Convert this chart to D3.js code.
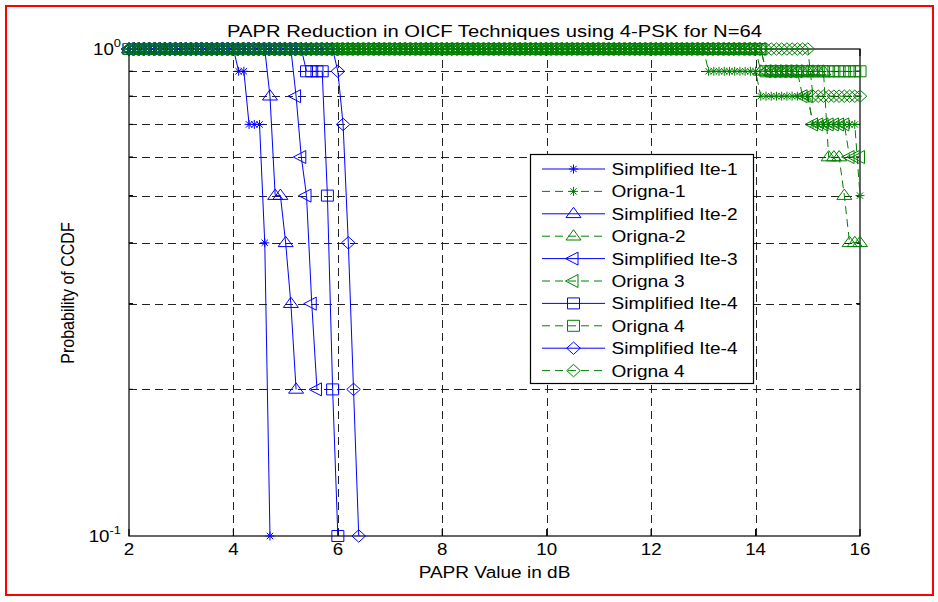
<!DOCTYPE html>
<html><head><meta charset="utf-8">
<script src="https://cdn.jsdelivr.net/npm/d3@7"></script>
<style>body{margin:0;background:#fff}text{font-family:"Liberation Sans",Arial,sans-serif;fill:#000}</style>
</head><body>
<svg id="chart" width="938" height="602"></svg>
<script>
// PAPR thresholds (dB) at which every CCDF was evaluated
const paprThresholds = d3.range(20, 161).map(d => d / 10);
const xTicks = [2, 4, 6, 8, 10, 12, 14, 16];
const yGridValues = [0.2, 0.3, 0.4, 0.5, 0.6, 0.7, 0.8, 0.9];
const yMajorTicks = [1, 0.1];
const yMajorLabels = ["0", "-1"];

const seriesNames = ["Simplified Ite-1", "Origna-1", "Simplified Ite-2", "Origna-2", "Simplified Ite-3",
  "Origna 3", "Simplified Ite-4", "Origna 4", "Simplified Ite-4", "Origna 4"];
const seriesMarkers = ["star", "star", "triUp", "triUp", "triLeft", "triLeft", "square", "square", "diamond", "diamond"];
const seriesKinds = ["simp", "orig", "simp", "orig", "simp", "orig", "simp", "orig", "simp", "orig"];

// CCDF levels of each curve, and the last threshold (dB) at which each level holds
const s1Levels = [1, 0.9, 0.7, 0.4, 0.1];          const s1Ends = [4.0, 4.2, 4.5, 4.6, 4.7];
const o1Levels = [1, 0.9, 0.8, 0.7, 0.5];          const o1Ends = [13.0, 14.0, 15.0, 15.9, 16.0];
const s2Levels = [1, 0.8, 0.5, 0.4, 0.3, 0.2];     const s2Ends = [4.6, 4.7, 4.9, 5.0, 5.1, 5.2];
const o2Levels = [1, 0.9, 0.6, 0.5, 0.4];          const o2Ends = [14.0, 15.3, 15.6, 15.7, 16.0];
const s3Levels = [1, 0.8, 0.6, 0.5, 0.3, 0.2];     const s3Ends = [5.1, 5.2, 5.3, 5.4, 5.5, 5.6];
const o3Levels = [1, 0.9, 0.8, 0.7, 0.6];          const o3Ends = [14.1, 14.8, 15.0, 15.7, 16.0];
const s4Levels = [1, 0.9, 0.5, 0.2, 0.1];          const s4Ends = [5.3, 5.7, 5.8, 5.9, 6.0];
const o4Levels = [1, 0.9];                         const o4Ends = [14.1, 16.0];
const s5Levels = [1, 0.9, 0.7, 0.4, 0.2, 0.1];     const s5Ends = [5.9, 6.0, 6.1, 6.2, 6.3, 6.4];
const o5Levels = [1, 0.8];                         const o5Ends = [15.0, 16.0];

const allLevels = [s1Levels, o1Levels, s2Levels, o2Levels, s3Levels, o3Levels, s4Levels, o4Levels, s5Levels, o5Levels];
const allEnds = [s1Ends, o1Ends, s2Ends, o2Ends, s3Ends, o3Ends, s4Ends, o4Ends, s5Ends, o5Ends];

const colors = { simp: "#0000ff", orig: "#008000" };
const dashes = { simp: null, orig: "8,5" };

const svg = d3.select("#chart");
const L = 129, R = 860, T = 49, B = 536;
const x = d3.scaleLinear().domain([2, 16]).range([L, R]);
const y = d3.scaleLog().domain([0.1, 1]).range([B, T]);
const SX = 1.17; // horizontal glyph stretch of the original figure

// red frame
svg.append("rect").attr("x", 6).attr("y", 6).attr("width", 927).attr("height", 589)
  .attr("fill", "#fff").attr("stroke", "#ff0000").attr("stroke-width", 2);

// grid
const grid = svg.append("g").attr("stroke", "#222").attr("stroke-width", 1).attr("stroke-dasharray", "8,5");
grid.selectAll("line.v").data(xTicks.slice(1, -1)).join("line")
  .attr("x1", d => Math.round(x(d)) + 0.5).attr("x2", d => Math.round(x(d)) + 0.5).attr("y1", B).attr("y2", T);
grid.selectAll("line.h").data(yGridValues).join("line")
  .attr("y1", d => Math.round(y(d)) + 0.5).attr("y2", d => Math.round(y(d)) + 0.5).attr("x1", L).attr("x2", R);

// axes box + ticks
const ax = svg.append("g").attr("stroke", "#000").attr("stroke-width", 1.2).attr("fill", "none");
ax.append("rect").attr("x", L).attr("y", T).attr("width", R - L).attr("height", B - T);
xTicks.forEach(t => {
  ax.append("line").attr("x1", x(t)).attr("x2", x(t)).attr("y1", B).attr("y2", B - 7);
  ax.append("line").attr("x1", x(t)).attr("x2", x(t)).attr("y1", T).attr("y2", T + 7);
});
yGridValues.forEach(v => {
  ax.append("line").attr("x1", L).attr("x2", L + 4).attr("y1", y(v)).attr("y2", y(v));
  ax.append("line").attr("x1", R).attr("x2", R - 4).attr("y1", y(v)).attr("y2", y(v));
});

function stretchedText(px, py, str, size, anchor, rot) {
  const g = svg.append("g").attr("transform", `translate(${px},${py}) scale(${SX},1)` + (rot ? ` rotate(${rot})` : ""));
  return g.append("text").attr("text-anchor", anchor).attr("font-size", size).text(str);
}

// tick labels
const xAxis = d3.axisBottom(x).tickValues(xTicks);
xTicks.forEach(t => stretchedText(x(t), B + 19, String(t), 16, "middle"));
yMajorTicks.forEach((v, i) => {
  const g = svg.append("g").attr("transform", `translate(121,${y(v) + 6}) scale(${SX},1)`);
  const t = g.append("text").attr("text-anchor", "end").attr("font-size", 16);
  t.append("tspan").text("10");
  t.append("tspan").attr("dy", -8).attr("font-size", 11).text(yMajorLabels[i]);
});

// titles
stretchedText((L + R) / 2, 37, "PAPR Reduction in OICF Techniques using 4-PSK for N=64", 17.3, "middle");
stretchedText((L + R) / 2, 578, "PAPR Value in dB", 16.3, "middle");
stretchedText(74, 293, "Probability of CCDF", 16, "middle", -90);

// marker shapes
function markerPath(type, cx, cy) {
  switch (type) {
    case "star": return `M${cx-4.5},${cy}H${cx+4.5}M${cx},${cy-4.5}V${cy+4.5}M${cx-3.2},${cy-3.2}L${cx+3.2},${cy+3.2}M${cx-3.2},${cy+3.2}L${cx+3.2},${cy-3.2}`;
    case "triUp": return `M${cx},${cy-6.5}L${cx+7.5},${cy+3.8}L${cx-7.5},${cy+3.8}Z`;
    case "triLeft": return `M${cx-8},${cy}L${cx+4.5},${cy-6.5}L${cx+4.5},${cy+6.5}Z`;
    case "square": return `M${cx-6},${cy-5.5}H${cx+6}V${cy+5.5}H${cx-6}Z`;
    case "diamond": return `M${cx},${cy-6.2}L${cx+6.8},${cy}L${cx},${cy+6.2}L${cx-6.8},${cy}Z`;
  }
}

function ccdfPoints(levels, ends) {
  const pts = [];
  paprThresholds.forEach(t => {
    const i = ends.findIndex(e => t <= e + 1e-9);
    if (i >= 0) pts.push([t, levels[i]]);
  });
  return pts;
}

const line = d3.line().x(d => x(d[0])).y(d => y(d[1]));
const dataG = svg.append("g");
allLevels.forEach((levels, si) => {
  const pts = ccdfPoints(levels, allEnds[si]);
  const kind = seriesKinds[si];
  const g = dataG.append("g");
  g.append("path").attr("d", line(pts)).attr("fill", "none").attr("stroke", colors[kind])
    .attr("stroke-width", 1).attr("stroke-dasharray", dashes[kind]);
  g.append("path").attr("d", pts.map(p => markerPath(seriesMarkers[si], x(p[0]), y(p[1]))).join(""))
    .attr("fill", "none").attr("stroke", colors[kind]).attr("stroke-width", 1);
});

// legend
const lg = svg.append("g");
lg.append("rect").attr("x", 530.5).attr("y", 154.5).attr("width", 223).attr("height", 229)
  .attr("fill", "#fff").attr("stroke", "#000").attr("stroke-width", 1.2);
seriesNames.forEach((name, i) => {
  const ry = 169 + i * 22.4;
  const kind = seriesKinds[i];
  lg.append("line").attr("x1", 542).attr("x2", 605).attr("y1", ry).attr("y2", ry)
    .attr("stroke", colors[kind]).attr("stroke-width", 1).attr("stroke-dasharray", dashes[kind]);
  lg.append("path").attr("d", markerPath(seriesMarkers[i], 573.5, ry)).attr("fill", "none")
    .attr("stroke", colors[kind]).attr("stroke-width", 1);
  const g = lg.append("g").attr("transform", `translate(611.5,${ry + 6}) scale(${SX},1)`);
  g.append("text").attr("font-size", 16.3).text(name);
});
</script>
</body></html>
